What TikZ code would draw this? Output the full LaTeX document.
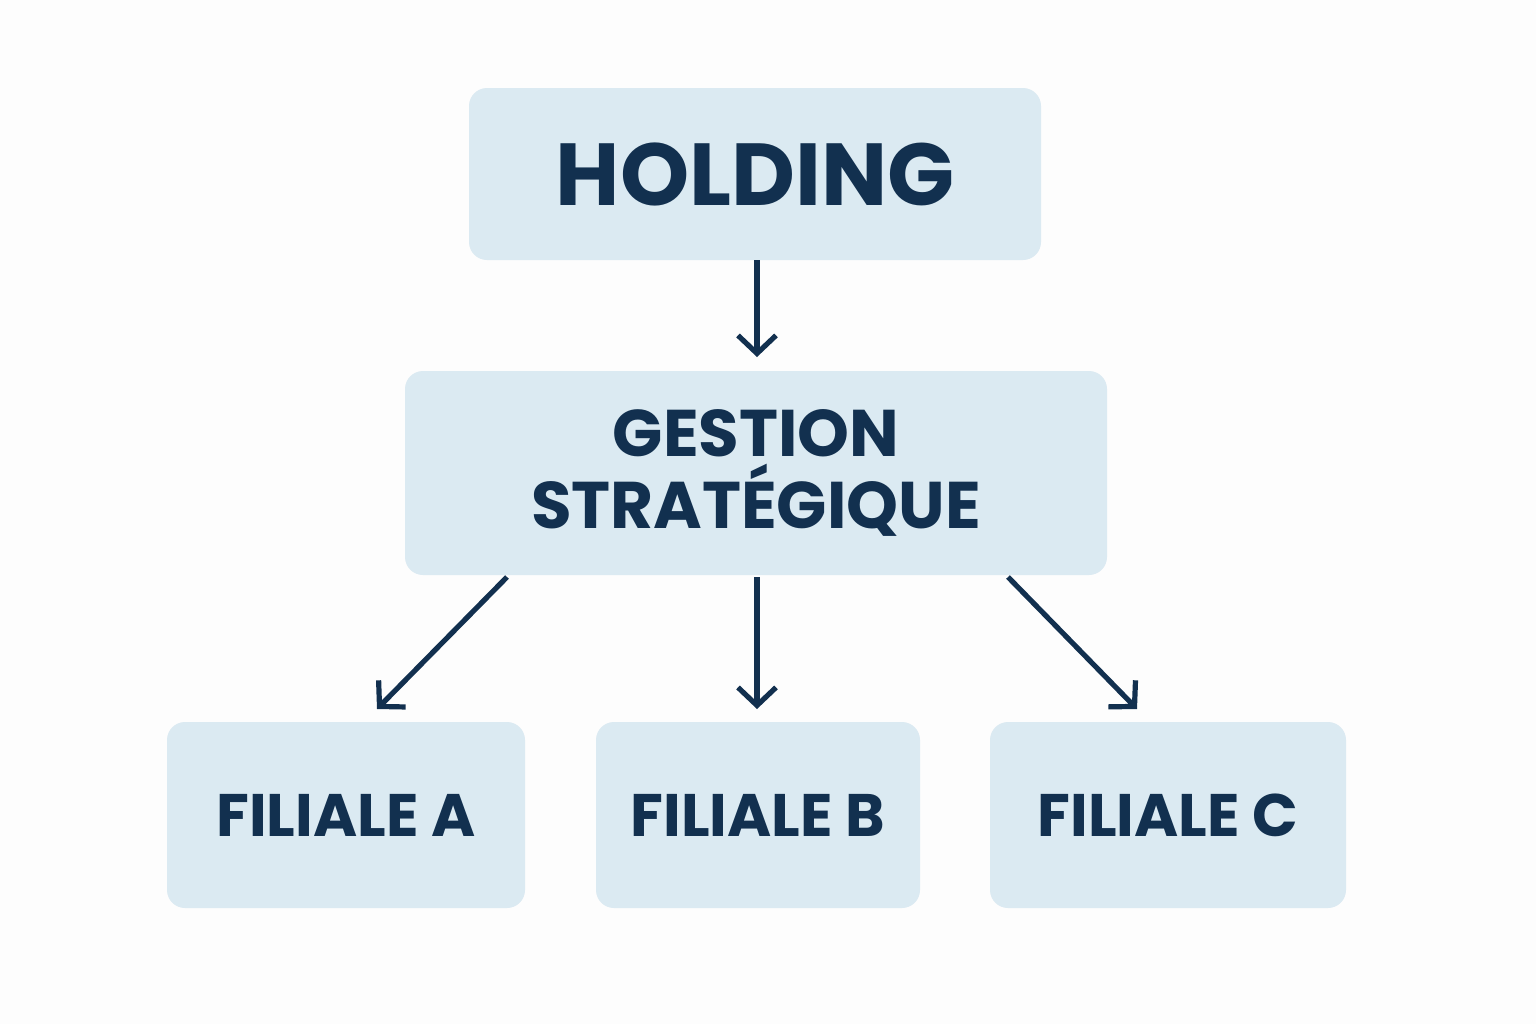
\documentclass[tikz,border=0pt]{standalone}
\usepackage{fontspec}
\setmainfont{Poppins}
\usetikzlibrary{arrows.meta}
\definecolor{navy}{HTML}{12304F}
\definecolor{boxfill}{HTML}{DBEAF2}
\definecolor{bg}{HTML}{FDFDFD}
\begin{document}
\begin{tikzpicture}[x=0.5pt,y=-0.5pt,
  box/.style={fill=boxfill,rounded corners=9pt,inner sep=0pt,text=navy,font=\bfseries,align=center},
  conn/.style={draw=navy,line width=2.6pt,-{Straight Barb[length=9pt,width=19pt,line width=2.6pt]}}]
\fill[bg] (0,0) rectangle (1536,1024);
\useasboundingbox (0,0) rectangle (1536,1024);
\node[box,minimum width=286pt,minimum height=86pt,font=\bfseries\fontsize{44}{50}\selectfont] (h) at (755,174) {HOLDING};
\node[box,minimum width=351pt,minimum height=102pt,font=\bfseries\fontsize{33}{36}\selectfont] (g) at (756,473) {GESTION\\STRATÉGIQUE};
\node[box,minimum width=179pt,minimum height=93pt,font=\bfseries\fontsize{30}{34}\selectfont] (a) at (346,815) {FILIALE A};
\node[box,minimum width=162pt,minimum height=93pt,font=\bfseries\fontsize{30}{34}\selectfont] (b) at (758,815) {FILIALE B};
\node[box,minimum width=178pt,minimum height=93pt,font=\bfseries\fontsize{30}{34}\selectfont] (c) at (1168,815) {FILIALE C};
\coordinate (ha) at (757,357);
\coordinate (ga) at (507,577);
\coordinate (gb) at (757,577);
\coordinate (gc) at (1008,577);
\coordinate (ta) at (377,709);
\coordinate (tb) at (757,709);
\coordinate (tc) at (1137,709);
\draw[conn] (h.south -| ha) -- (ha);
\draw[conn] (ga) -- (ta);
\draw[conn] (gb) -- (tb);
\draw[conn] (gc) -- (tc);
\end{tikzpicture}
\end{document}
